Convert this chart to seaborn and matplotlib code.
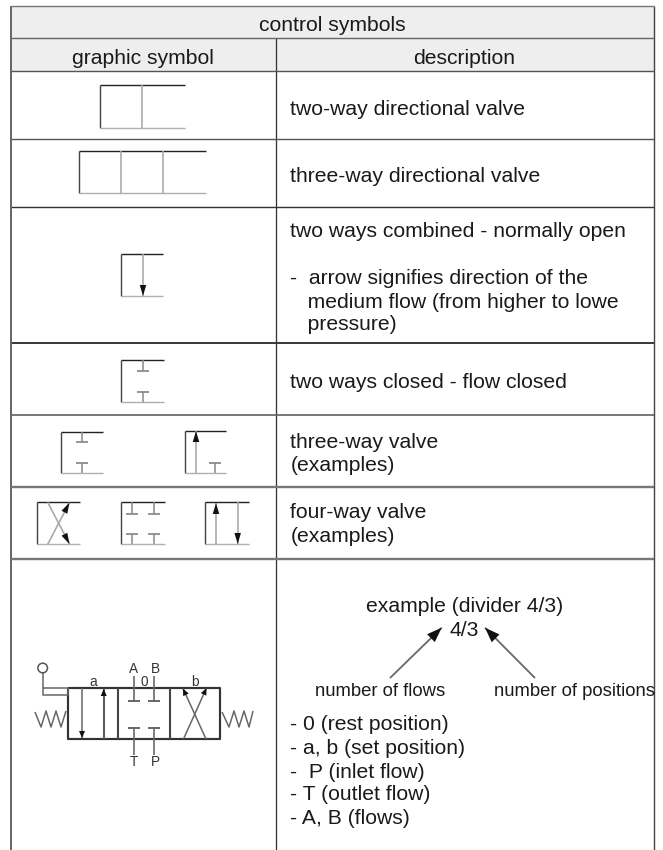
import numpy as np
import pandas as pd
import matplotlib
matplotlib.use("Agg")
import matplotlib.pyplot as plt
from matplotlib.patches import Rectangle, Circle
import seaborn as sns

# ---- table content -------------------------------------------------------
title = "control symbols"
column_heads = ["graphic symbol", "description"]
description_lines = [
    ("two-way directional valve", 114.5), ("three-way directional valve", 181.5),
    ("two ways combined - normally open", 236.5), ("-  arrow signifies direction of the", 283.5),
    ("   medium flow (from higher to lowe", 307.5), ("   pressure)", 330.5),
    ("two ways closed - flow closed", 387.5), ("three-way valve", 447.5), ("(examples)", 470.5),
    ("four-way valve", 518.5), ("(examples)", 541.5),
    ("- 0 (rest position)", 730.5), ("- a, b (set position)", 753.5), ("-  P (inlet flow)", 777.5),
    ("- T (outlet flow)", 800.5), ("- A, B (flows)", 823.5),
]
example_title = ("example (divider 4/3)", 464.5, 612.5)
example_code = ("4/3", 464, 636.5)
small_labels = [("number of flows", 380.5, 696.5), ("number of positions", 574.5, 696.5)]
valve_labels = [("A", 133.5, 673), ("B", 155, 673), ("T", 133.5, 766), ("P", 155, 766),
                ("0", 144.5, 686), ("a", 93, 686), ("b", 195, 686)]

# ---- table rules ---------------------------------------------------------
table_x = [11, 275.5, 653.5]
table_y_top, table_y_bottom = 6, 850
header_y = [38, 71]
row_rules = [(139, "#555555", 1.3), (207, "#333333", 1.3), (343, "#111111", 1.5),
             (415, "#666666", 1.6), (487, "#777777", 2.2), (559, "#777777", 2.2)]

# ---- simple symbols: left, right, top, bottom ----------------------------
boxes = [(99.5, 185, 85, 128), (78.5, 206, 151, 193), (121, 163, 254, 296),
         (120.5, 164, 360, 401.5), (60.5, 103, 431.5, 473), (184.5, 226, 430.5, 472.5),
         (37.3, 79.7, 502.3, 544.3), (121.3, 164.7, 502.3, 544.3), (205.3, 248.7, 502.3, 544.3)]
dividers = [(142, 85, 128), (121, 151, 193), (163, 151, 193)]
# blocked-port stubs: x, outer y, bar y
stubs = [(143, 360, 370.5), (143, 401.5, 391.5), (82, 431.5, 442), (82, 473, 463),
         (214.5, 472.5, 463), (132, 502.3, 513.5), (153.7, 502.3, 513.5),
         (132, 544.3, 534.3), (153.7, 544.3, 534.3)]
# flow arrows: tail x, tail y, tip x, tip y
flows = [(143, 254, 143, 296), (196, 472.5, 196, 431), (216, 544.3, 216, 503),
         (237.7, 502.3, 237.7, 544), (47.7, 544.3, 69.5, 502.5), (47.7, 502.3, 69.5, 544)]

# ---- the 4/3 valve -------------------------------------------------------
valve_box = (67.7, 220, 688, 739)
valve_dividers = [103.7, 118, 170]
valve_stubs = [(133.5, 676, 700.5), (154.3, 676, 700.5), (133.5, 755, 727.5), (154.3, 755, 727.5)]
valve_flows = [(82, 688, 82, 738), (183.5, 739, 206.5, 688), (206, 739, 183, 688.5),
               (103.7, 739, 103.7, 689)]
lever_x = [42.7, 42.7, 67.7, 67.7, 42.7]
lever_y = [673, 694.5, 694.5, 688, 688]
lever_circle = (42.7, 668, 4.8)
spring_left_x = [35, 41, 46, 51, 56, 61, 66]
spring_right_x = [222, 229, 234, 239, 244, 249, 253]
spring_y = [712, 727, 711, 727, 711, 727, 711]
callouts = [(390, 678, 441.7, 627.7), (535, 678, 485, 627.7)]

# ---- drawing -------------------------------------------------------------
sns.set_theme(style="white")
plt.rcParams["font.family"] = ["Liberation Sans", "DejaVu Sans"]
fig = plt.figure(figsize=(6.63, 8.5), dpi=100, facecolor="white")
ax = fig.add_axes([0, 0, 1, 1])

segments = []
def seg(xs, ys, color, lw):
    segments.append(pd.DataFrame({"x": xs, "y": ys, "seg": len(segments), "color": color, "lw": lw}))

def head(x0, y0, x1, y1, length=11, width=6.5):
    d = np.array([x1 - x0, y1 - y0], float)
    d /= np.hypot(*d)
    n = np.array([-d[1], d[0]])
    tip = np.array([x1, y1], float)
    base = tip - d * length
    pts = np.array([tip, base + n * width / 2, base - n * width / 2])
    ax.fill(pts[:, 0], pts[:, 1], color="#111111", lw=0, zorder=5)

ax.add_patch(Rectangle((table_x[0], table_y_top), table_x[2] - table_x[0], header_y[1] - table_y_top,
                       fc="#eeeeee", ec="none", zorder=0))

# table rules
seg([table_x[0], table_x[2]], [table_y_top, table_y_top], "#777777", 1.3)
seg([table_x[0], table_x[2]], [header_y[0], header_y[0]], "#666666", 1.3)
seg([table_x[0], table_x[2]], [header_y[1], header_y[1]], "#555555", 1.3)
for y, c, w in row_rules:
    seg([table_x[0], table_x[2]], [y, y], c, w)
seg([table_x[0]] * 2, [table_y_top, table_y_bottom], "#666666", 1.8)
seg([table_x[1]] * 2, [header_y[0], table_y_bottom], "#333333", 1.2)
seg([table_x[2]] * 2, [table_y_top, table_y_bottom], "#444444", 1.3)

# simple symbols
for l, r, t, b in boxes:
    seg([l, r], [t, t], "#222222", 1.3)
    seg([l, l], [t, b], "#444444", 1.3)
    seg([l, r], [b, b], "#b0b0b0", 1.3)
for x, t, b in dividers:
    seg([x, x], [t, b], "#a8a8a8", 1.5)
for x, y0, y1 in stubs:
    seg([x, x], [y0, y1], "#888888", 1.4)
    seg([x - 6, x + 6], [y1, y1], "#888888", 1.6)
for x0, y0, x1, y1 in flows:
    seg([x0, x1], [y0, y1], "#a8a8a8", 1.5)
    head(x0, y0, x1, y1)

# 4/3 valve
l, r, t, b = valve_box
seg([l, r, r, l, l], [t, t, b, b, t], "#333333", 2.0)
for x in valve_dividers:
    seg([x, x], [t, b], "#444444", 1.9)
for x, y0, y1 in valve_stubs:
    seg([x, x], [y0, y1], "#666666", 1.5)
    seg([x - 6, x + 6], [y1, y1], "#555555", 1.6)
for x0, y0, x1, y1 in valve_flows:
    seg([x0, x1], [y0, y1], "#666666", 1.4)
    head(x0, y0, x1, y1, length=7, width=6)
seg(lever_x, lever_y, "#666666", 1.4)
seg(spring_left_x, spring_y, "#666666", 1.4)
seg(spring_right_x, spring_y, "#666666", 1.4)
ax.add_patch(Circle(lever_circle[:2], lever_circle[2], fc="white", ec="#555555", lw=1.1, zorder=3))

# callout arrows
for x0, y0, x1, y1 in callouts:
    seg([x0, x1], [y0, y1], "#6a6a6a", 1.7)
    head(x0, y0, x1, y1, length=15, width=11)

frame = pd.concat(segments, ignore_index=True)
for (color, lw), part in frame.groupby(["color", "lw"]):
    sns.lineplot(data=part, x="x", y="y", units="seg", estimator=None, sort=False,
                 color=color, linewidth=lw * 0.78, ax=ax, legend=False, solid_capstyle="butt", zorder=2)

# text
TXT = "#1a1a1a"
BIG = 15.2
ax.text((table_x[0] + table_x[2]) / 2, 30.5, title, ha="center", va="baseline", fontsize=BIG, color=TXT)
ax.text(143, 63.5, column_heads[0], ha="center", va="baseline", fontsize=BIG, color=TXT)
ax.text(464.5, 63.5, column_heads[1], ha="center", va="baseline", fontsize=BIG, color=TXT)
for s, y in description_lines:
    ax.text(290.5, y, s, ha="left", va="baseline", fontsize=BIG, color=TXT)
for s, x, y in (example_title, example_code):
    ax.text(x, y, s, ha="center", va="baseline", fontsize=BIG, color=TXT)
for s, x, y in small_labels:
    ax.text(x, y, s, ha="center", va="baseline", fontsize=13.3, color=TXT)
for s, x, y in valve_labels:
    ax.text(x, y, s, ha="center", va="baseline", fontsize=9.8, color="#333333")

ax.set_xlim(0, 663)
ax.set_ylim(850, 0)
ax.set_xlabel("")
ax.set_ylabel("")
ax.axis("off")
fig.savefig("out.png", dpi=100, facecolor="white")
